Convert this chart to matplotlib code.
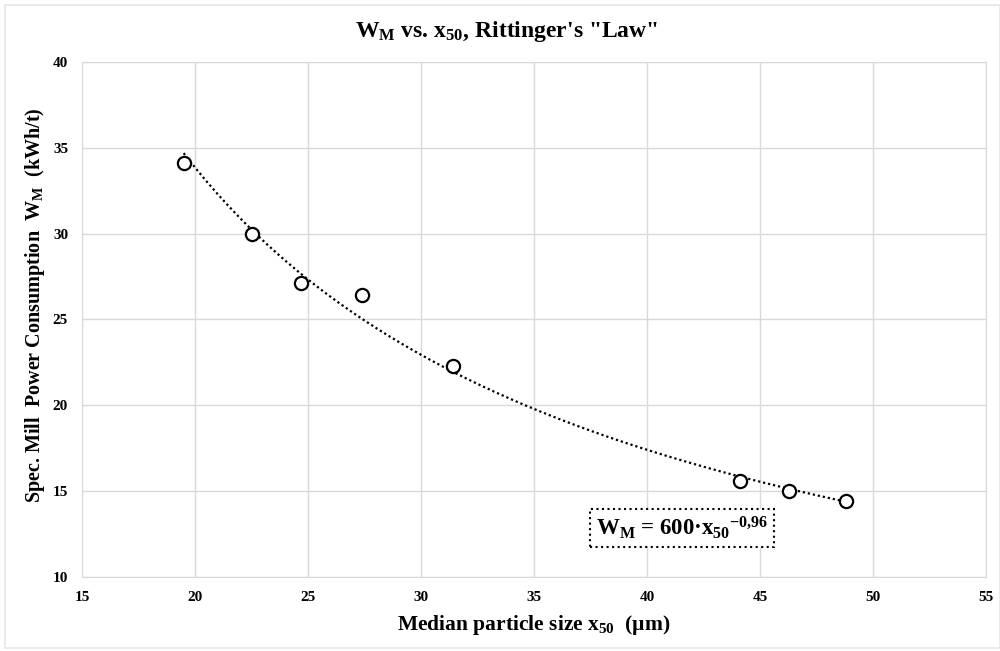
import numpy as np
import matplotlib
matplotlib.use("Agg")
import matplotlib.pyplot as plt
from matplotlib.patches import Rectangle

# Data
x50 = [19.5, 22.5, 24.7, 27.4, 31.4, 44.1, 46.3, 48.8]
wm = [34.1, 30.0, 27.1, 26.4, 22.3, 15.6, 15.0, 14.4]
xticks = [15, 20, 25, 30, 35, 40, 45, 50, 55]
yticks = [10, 15, 20, 25, 30, 35, 40]

plt.rcParams['font.family'] = ['Liberation Serif', 'DejaVu Serif']
plt.rcParams['font.weight'] = 'bold'
plt.rcParams['mathtext.fontset'] = 'custom'
plt.rcParams['mathtext.rm'] = 'Liberation Serif:bold'
plt.rcParams['mathtext.it'] = 'Liberation Serif:bold'
plt.rcParams['mathtext.bf'] = 'Liberation Serif:bold'

fig = plt.figure(figsize=(10, 6.51), dpi=100)
ax = fig.add_axes([0.082, 0.1137, 0.904, 0.7911])

# Power-law trendline fitted to the data (as Excel does)
b, loga = np.polyfit(np.log(x50), np.log(wm), 1)
xs = np.linspace(min(x50), max(x50), 200)
ax.plot(xs, np.exp(loga) * xs ** b, color='black', lw=1.6,
        linestyle=(0, (1, 1.3)), zorder=2)

ax.plot(x50, wm, linestyle='none', marker='o', markersize=9.5,
        markerfacecolor='white', markeredgecolor='black',
        markeredgewidth=1.6, zorder=3)

ax.set_xlim(15, 55)
ax.set_ylim(10, 40)
ax.set_xticks(xticks)
ax.set_yticks(yticks)
ax.grid(True, color='#d9d9d9', lw=1)
ax.set_axisbelow(True)
for s in ax.spines.values():
    s.set_color('#d9d9d9')
ax.tick_params(length=0, labelsize=11)
ax.tick_params(axis='x', pad=10)
ax.tick_params(axis='y', pad=10)
for lab in ax.get_xticklabels() + ax.get_yticklabels():
    lab.set_fontweight('bold')

fig.text(0.507, 0.951, "W$_{\\rm M}$ vs. x$_{50}$, Rittinger's \"Law\"",
         ha='center', va='center', fontsize=17, fontweight='bold')
fig.text(0.534, 0.040, "Median particle size x$_{50}$  (\u00b5m)",
         ha='center', va='center', fontsize=15.5, fontweight='bold')
fig.text(0.035, 0.531, "Spec. Mill  Power Consumption  W$_{\\rm M}$  (kWh/t)",
         ha='center', va='center', rotation=90, fontsize=14.5,
         fontweight='bold')

ax.text(0.664, 0.095, "W$_{\\rm M}$ = 600\u00b7x$_{50}$$^{-0{,}96}$",
        transform=ax.transAxes, ha='center', va='center', fontsize=16.5,
        fontweight='bold',
        bbox=dict(boxstyle='square,pad=0.25', fc='white', ec='black',
                  ls=':', lw=1.5))

fig.add_artist(Rectangle((0.005, 0.004), 0.995, 0.988,
                         transform=fig.transFigure, fill=False,
                         ec='#e6e6e6', lw=1.2))

fig.savefig("out.png", dpi=100, facecolor='white')
